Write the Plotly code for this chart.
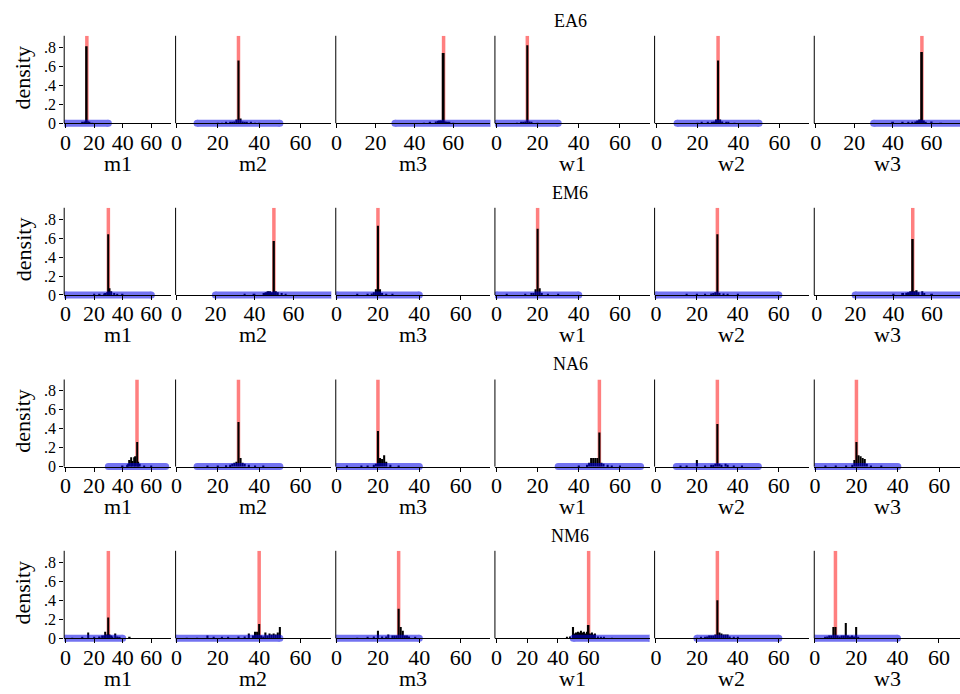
import plotly.graph_objects as go

# ---------------------------------------------------------------- data
scenarios = ["EA6", "EM6", "NA6", "NM6"]
players = ["m1", "m2", "m3", "w1", "w2", "w3"]

# value marked by the red reference line in each panel
true_value = [
    [15, 30, 55, 15, 30, 55],
    [30, 50, 20, 20, 30, 50],
    [50, 30, 20, 50, 30, 20],
    [30, 40, 30, 60, 30, 10],
]

# admissible interval, drawn as the blue band on the baseline
interval_lo = [
    [0, 10, 30, 0, 10, 30],
    [0, 20, 0, 0, 0, 20],
    [30, 10, 0, 30, 10, 0],
    [0, 0, 0, 50, 20, 0],
]
interval_hi = [
    [30, 50, 80, 30, 50, 80],
    [60, 80, 40, 40, 60, 80],
    [70, 50, 40, 70, 50, 40],
    [40, 50, 40, 100, 60, 40],
]

# histogram bins (centres) and densities
hist_x = [
    [
        [12, 13, 14, 15, 16, 17, 19],
        [20, 22, 24, 26, 27, 28, 29, 30, 31, 32, 33, 34, 36, 38, 40],
        [45, 48, 51, 52, 53, 54, 55, 56, 57, 58, 60],
        [10, 12, 13, 14, 15, 16, 17, 20],
        [20, 22, 25, 27, 28, 29, 30, 31, 32, 34, 35, 38],
        [40, 45, 48, 50, 52, 53, 54, 55, 56, 57, 60, 65],
    ],
    [
        [20, 24, 27, 28, 29, 30, 31, 32, 34, 36, 40],
        [35, 40, 45, 46, 47, 48, 49, 50, 51, 52, 54, 56],
        [10, 15, 17, 18, 19, 20, 21, 22, 24, 27],
        [5, 14, 17, 18, 19, 20, 21, 22, 25, 30],
        [15, 20, 24, 27, 28, 29, 30, 31, 33, 35, 40],
        [40, 45, 47, 48, 49, 50, 51, 52, 53, 55, 56, 60],
    ],
    [
        [40, 43, 44, 45, 46, 47, 48, 49, 50, 51, 52, 55, 60],
        [15, 20, 24, 26, 27, 28, 29, 30, 31, 32, 33, 35, 38, 42],
        [5, 12, 15, 18, 19, 20, 21, 22, 23, 24, 26, 30],
        [40, 44, 45, 46, 47, 48, 49, 50, 51, 52, 54, 56, 60],
        [12, 15, 20, 24, 27, 28, 29, 30, 31, 32, 34, 35, 38, 42],
        [5, 10, 15, 18, 19, 20, 21, 22, 23, 24, 25, 27, 32],
    ],
    [
        [5, 12, 16, 20, 24, 26, 27, 28, 29, 30, 31, 32, 33, 35, 36, 38, 45],
        [5, 10, 15, 18, 22, 25, 30, 33, 35, 37, 38, 39, 40, 41, 42, 43, 44,
         45, 46, 47, 48, 49, 50],
        [10, 15, 18, 20, 22, 24, 25, 27, 28, 29, 30, 31, 32, 33, 34, 35, 38],
        [46, 48, 50, 51, 52, 53, 54, 55, 56, 57, 58, 59, 60, 61, 62, 63, 64,
         66, 68, 70, 75],
        [20, 22, 24, 25, 26, 27, 28, 29, 30, 31, 32, 33, 34, 35, 36, 38, 40],
        [5, 6, 7, 8, 9, 10, 11, 12, 13, 14, 15, 16, 17, 18, 19, 20, 21],
    ],
]
hist_d = [
    [
        [.01, .01, .02, .81, .02, .01, .005],
        [.005, .005, .01, .01, .015, .02, .04, .66, .05, .02, .015, .01, .01, .005, .005],
        [.005, .01, .02, .025, .03, .03, .74, .02, .015, .01, .005],
        [.005, .01, .015, .02, .82, .02, .01, .005],
        [.005, .01, .01, .015, .02, .04, .66, .04, .02, .015, .01, .005],
        [.01, .01, .01, .015, .02, .03, .04, .75, .03, .015, .02, .005],
    ],
    [
        [.01, .01, .015, .02, .03, .64, .07, .04, .02, .01, .005],
        [.01, .01, .02, .03, .04, .04, .03, .57, .04, .03, .02, .01],
        [.005, .01, .015, .03, .06, .73, .06, .02, .01, .005],
        [.005, .01, .02, .02, .06, .70, .07, .02, .01, .005],
        [.005, .01, .01, .015, .02, .03, .64, .02, .015, .01, .005],
        [.01, .02, .025, .03, .04, .59, .04, .05, .03, .04, .02, .01],
    ],
    [
        [.005, .02, .03, .07, .10, .06, .10, .11, .26, .05, .03, .01, .005],
        [.005, .01, .015, .02, .03, .04, .05, .47, .09, .04, .03, .02, .01, .005],
        [.005, .01, .01, .02, .03, .375, .09, .08, .12, .05, .02, .005],
        [.01, .02, .04, .09, .09, .09, .09, .36, .04, .03, .02, .01, .005],
        [.005, .01, .07, .01, .02, .02, .03, .45, .03, .02, .03, .02, .01, .005],
        [.005, .01, .01, .02, .07, .26, .12, .11, .09, .08, .03, .01, .005],
    ],
    [
        [.005, .01, .06, .01, .02, .03, .03, .07, .04, .22, .04, .03, .02, .05, .02, .01, .01],
        [.005, .005, .03, .01, .01, .01, .02, .02, .05, .03, .07, .07, .15, .03, .02, .06, .03,
         .05, .04, .05, .04, .06, .12],
        [.005, .01, .02, .08, .02, .02, .04, .03, .03, .03, .31, .12, .08, .03, .03, .02, .01],
        [.01, .02, .12, .05, .06, .07, .06, .08, .06, .07, .05, .07, .14, .05, .06, .04, .05,
         .02, .01, .01, .005],
        [.005, .01, .01, .02, .03, .03, .03, .04, .40, .06, .05, .04, .04, .04, .02, .01, .01],
        [.01, .02, .03, .03, .12, .12, .03, .02, .03, .03, .16, .03, .02, .03, .02, .12, .01],
    ],
]

x_tickvals = [0, 20, 40, 60]
y_tickvals = [0, .2, .4, .6, .8]
y_ticktext = ["0", ".2", ".4", ".6", ".8"]

# ------------------------------------------------------------- layout
W, H = 960, 694
FONT = "'Liberation Serif', 'Times New Roman', Times, serif"
Y_MAX, Y_MIN = 0.92, -0.05

col_px = [(59.5, 167), (171.5, 328), (332.5, 488),
          (492.5, 648), (653, 808.5), (813.5, 960)]
row_top = [36, 209, 381.7, 554]
row_base = [124, 296.7, 469.3, 642]

# pixel position of x = 0 and pixels per unit for every panel's x scale
zero_px = [
    [60.7, 172.3, 333.3, 494, 655, 815],
    [60.7, 172.3, 333.3, 494, 654.3, 816],
    [60.7, 172.3, 333.3, 494, 654.3, 814.3],
    [60.7, 172.3, 333.3, 494, 654.3, 814],
]
unit_px = [
    [1.44, 2.08, 1.956, 2.07, 2.06, 1.94],
    [1.44, 1.96, 2.08, 2.07, 2.06, 1.93],
    [1.44, 2.08, 2.08, 2.07, 2.06, 2.08],
    [1.44, 2.08, 2.08, 1.545, 2.06, 2.08],
]


def py(px):
    return 1 - px / H


RED = "rgba(255,0,0,0.5)"
BLUE = "rgb(0,0,230)"

fig = go.Figure()
layout = dict(
    width=W, height=H,
    margin=dict(l=0, r=0, t=0, b=0),
    paper_bgcolor="white", plot_bgcolor="white",
    showlegend=False,
    font=dict(family=FONT, color="black"),
)
shapes = []
annotations = []

for r, scen in enumerate(scenarios):
    base, top = row_base[r], row_top[r]
    scale = (base - top) / Y_MAX
    dom_bottom = base + (-Y_MIN) * scale
    for c, pl in enumerate(players):
        i = r * len(players) + c + 1
        xs, ys = f"x{i}", f"y{i}"
        x0px, x1px = col_px[c]
        z, u = zero_px[r][c], unit_px[r][c]
        layout[f"xaxis{i}"] = dict(
            domain=[x0px / W, x1px / W],
            range=[(x0px - z) / u, (x1px - z) / u],
            anchor="free", position=py(base),
            showline=True, linecolor="black", linewidth=1,
            ticks="outside", ticklen=4, tickcolor="black", tickwidth=1,
            tickvals=x_tickvals, tickangle=0, ticklabelstandoff=-5,
            tickfont=dict(family=FONT, size=22, color="black"),
            showgrid=False, zeroline=False, fixedrange=True,
        )
        ycfg = dict(
            domain=[py(dom_bottom), py(top)],
            range=[Y_MIN, Y_MAX], anchor=xs,
            showline=False, showgrid=False, zeroline=False, fixedrange=True,
        )
        if c == 0:
            ycfg.update(
                ticks="outside", ticklen=4, tickcolor="black", tickwidth=1,
                tickvals=y_tickvals, ticktext=y_ticktext,
                tickfont=dict(family=FONT, size=16, color="black"),
            )
        else:
            ycfg.update(showticklabels=False, ticks="")
        layout[f"yaxis{i}"] = ycfg

        # vertical axis line, from the baseline to the top of the plot
        shapes.append(dict(type="line", xref="paper", yref="paper",
                           x0=x0px / W, x1=x0px / W, y0=py(base), y1=py(top),
                           line=dict(color="black", width=1)))
        # reference value
        tv = true_value[r][c]
        shapes.append(dict(type="line", xref=xs, yref=ys, layer="below",
                           x0=tv, x1=tv, y0=0, y1=Y_MAX,
                           line=dict(color=RED, width=3.5)))

        fig.add_trace(go.Bar(
            x=hist_x[r][c], y=hist_d[r][c], width=1,
            marker=dict(color="black", line=dict(width=0)),
            xaxis=xs, yaxis=ys, hoverinfo="skip",
        ))
        fig.add_trace(go.Scatter(
            x=[interval_lo[r][c], interval_hi[r][c]], y=[0, 0],
            mode="lines+markers",
            line=dict(color=BLUE, width=7),
            marker=dict(color=BLUE, size=7),
            opacity=0.55, xaxis=xs, yaxis=ys, hoverinfo="skip",
        ))

        annotations.append(dict(
            text=pl, xref="paper", yref="paper",
            x=(x0px + x1px) / 2 / W, y=py(base + 40),
            xanchor="center", yanchor="middle", showarrow=False,
            font=dict(family=FONT, size=22, color="black"),
        ))

    annotations.append(dict(
        text="density", xref="paper", yref="paper",
        x=18 / W, y=py(base - 46), textangle=-90,
        xanchor="center", yanchor="middle", showarrow=False,
        font=dict(family=FONT, size=22, color="black"),
    ))
    annotations.append(dict(
        text=scen, xref="paper", yref="paper",
        x=568 / W, y=py(base - 103),
        xanchor="center", yanchor="middle", showarrow=False,
        font=dict(family=FONT, size=18, color="black"),
    ))

layout["shapes"] = shapes
layout["annotations"] = annotations
layout["barmode"] = "overlay"
fig.update_layout(**layout)

fig.write_html("out.html")
